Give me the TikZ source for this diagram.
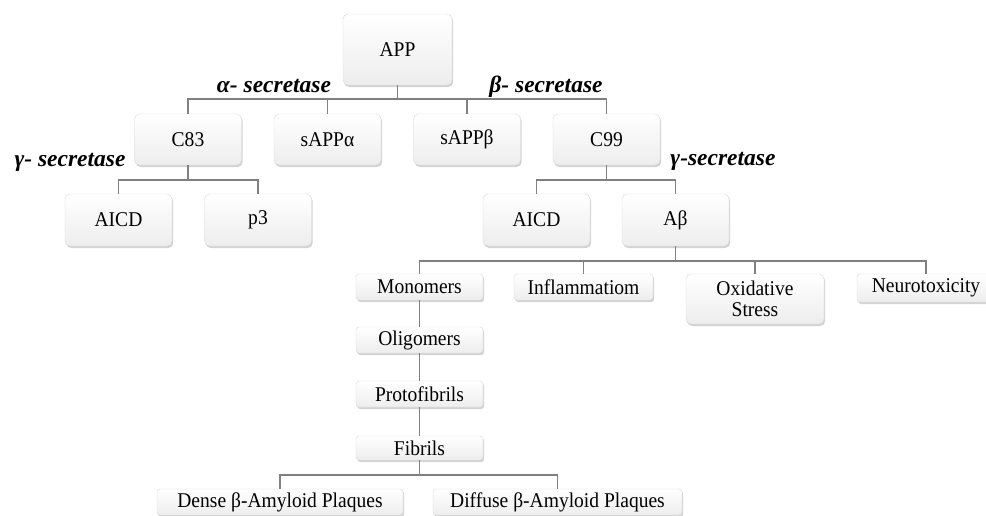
\documentclass[tikz,border=0pt]{standalone}
\usepackage{fontspec}
\setmainfont{Liberation Serif}
\newfontfamily\boxfont[FakeStretch=0.93]{Liberation Serif}
\usetikzlibrary{shadows}
\begin{document}
\begin{tikzpicture}[x=1pt,y=-1pt,
  box/.style={draw=gray!30, line width=0.4pt, rounded corners=5pt,
    top color=white, bottom color=gray!14, inner sep=0pt,
    drop shadow={shadow xshift=1.2pt, shadow yshift=-2pt, opacity=0.35, fill=gray},
    font=\boxfont\fontsize{21}{21.5}\selectfont, align=center},
  bigbox/.style={box, minimum width=107pt, minimum height=51pt},
  smallbox/.style={box, rounded corners=3pt, minimum height=26pt},
  conn/.style={draw=gray, line width=1.4pt},
  enz/.style={font=\fontsize{23.5}{25}\selectfont\bfseries\itshape, anchor=base, inner sep=0pt}
]
\useasboundingbox (0,0) rectangle (986,515);

% top
\node[bigbox, minimum width=109pt, minimum height=71pt] (app) at (397.5,49.5) {APP};
\node[bigbox] (c83) at (188,139.5) {C83};
\node[bigbox] (sappa) at (327.5,139.5) {sAPPα};
\node[bigbox] (sappb) at (467,139.5) {sAPPβ};
\node[bigbox] (c99) at (606.5,139.5) {C99};

\node[bigbox, minimum height=52pt] (aicd1) at (118.5,220) {AICD};
\node[bigbox, minimum height=52pt] (p3) at (258,220) {p3};
\node[bigbox, minimum height=52pt] (aicd2) at (536.5,220) {AICD};
\node[bigbox, minimum height=52pt] (abeta) at (675.5,220) {Aβ};

% labels
\node[enz] (lalpha) at (274,92) {α- secretase};
\node[enz] (lbeta) at (546,92) {β- secretase};
\node[enz] (lgam1) at (70,166) {γ- secretase};
\node[enz] (lgam2) at (723,165) {γ-secretase};

% Abeta effects
\node[smallbox, minimum width=127pt] (mono) at (419.5,287) {Monomers};
\node[smallbox, minimum width=139pt] (infl) at (583.5,287) {Inflammatiom};
\node[smallbox, rounded corners=5pt, minimum width=138pt, minimum height=50pt] (oxid) at (755,299) {Oxidative\\Stress};
\node[smallbox, minimum width=138pt, minimum height=28pt] (neuro) at (926,288) {Neurotoxicity};

\node[smallbox, minimum width=127pt] (oligo) at (419.5,340) {Oligomers};
\node[smallbox, minimum width=127pt] (proto) at (419.5,394) {Protofibrils};
\node[smallbox, minimum width=127pt, minimum height=24pt] (fib) at (419.5,448) {Fibrils};

\node[smallbox, minimum width=246pt] (dense) at (280,502) {Dense β-Amyloid Plaques};
\node[smallbox, minimum width=249pt] (diffuse) at (557.5,502) {Diffuse β-Amyloid Plaques};

% bus coordinates
\coordinate (b1) at (0,99);
\coordinate (b2) at (0,180);
\coordinate (b3) at (0,261);
\coordinate (b4) at (0,475);

% connectors
\draw[conn] (app.south) -- (app.south |- b1) -| (c83.north);
\draw[conn] (app.south |- b1) -| (sappa.north);
\draw[conn] (app.south |- b1) -| (sappb.north);
\draw[conn] (app.south |- b1) -| (c99.north);

\draw[conn] (c83.south) -- (c83.south |- b2) -| (aicd1.north);
\draw[conn] (c83.south |- b2) -| (p3.north);
\draw[conn] (c99.south) -- (c99.south |- b2) -| (aicd2.north);
\draw[conn] (c99.south |- b2) -| (abeta.north);

\draw[conn] (abeta.south) -- (abeta.south |- b3) -| (mono.north);
\draw[conn] (abeta.south |- b3) -| (infl.north);
\draw[conn] (abeta.south |- b3) -| (oxid.north);
\draw[conn] (abeta.south |- b3) -| (neuro.north);

\draw[conn] (mono.south) -- (oligo.north);
\draw[conn] (oligo.south) -- (proto.north);
\draw[conn] (proto.south) -- (fib.north);

\draw[conn] (fib.south) -- (fib.south |- b4) -| (dense.north);
\draw[conn] (fib.south |- b4) -| (diffuse.north);
\end{tikzpicture}
\end{document}
